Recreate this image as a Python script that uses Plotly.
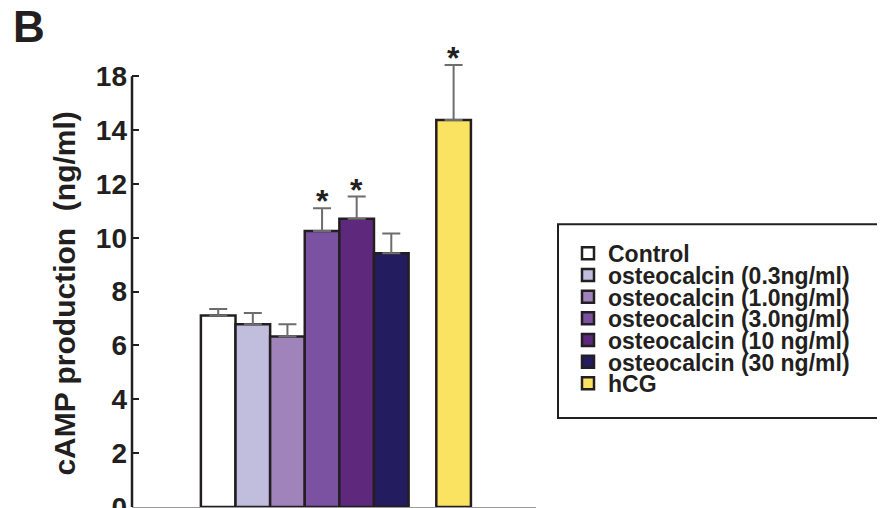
import plotly.graph_objects as go

# ---- data ----
categories = ["Control", "osteocalcin (0.3ng/ml)", "osteocalcin (1.0ng/ml)",
              "osteocalcin (3.0ng/ml)", "osteocalcin (10 ng/ml)",
              "osteocalcin (30 ng/ml)", "hCG"]
values = [7.11, 6.79, 6.33, 10.25, 10.70, 9.42, 14.37]
errors = [0.24, 0.41, 0.46, 0.84, 0.83, 0.74, 2.04]
significant = [False, False, False, True, True, False, True]
tick_values = [0, 2, 4, 6, 8, 10, 12, 14, 16]
tick_labels = ["0", "2", "4", "6", "8", "10", "12", "14", "18"]

colors = ["#ffffff", "#c1bddd", "#a083bb", "#7b52a1", "#5e297c", "#231c5e", "#fbe362"]
OUTLINE = "#231f20"
INK = "#231f20"
FONT = "Liberation Sans, Arial, Helvetica, sans-serif"
Y_RANGE = [0, 16.6]          # a little head-room so the hCG error bar is not clipped
AXIS_TOP = tick_values[-1]   # the drawn y-axis line stops at the top tick

# hCG is set apart from the dose series by a gap
positions = [i + (0.8 if c == "hCG" else 0.0) for i, c in enumerate(categories)]

# ---- geometry (page pixels); the page body adds an 8px margin ----
BODY = 8
W, H = 885 - BODY, 508 - BODY
PX_PER_UNIT = 26.94
PLOT_LEFT, PLOT_RIGHT, PLOT_BOTTOM = 132, 536, 507
PLOT_TOP = PLOT_BOTTOM - (Y_RANGE[1] - Y_RANGE[0]) * PX_PER_UNIT
PLOT_W, PLOT_H = PLOT_RIGHT - PLOT_LEFT, PLOT_BOTTOM - PLOT_TOP

def px(xp):
    return (xp - PLOT_LEFT) / PLOT_W

def py(yp):
    return (PLOT_BOTTOM - yp) / PLOT_H

fig = go.Figure()
legend_ids = []
for i, (cat, x, v, e, col) in enumerate(zip(categories, positions, values, errors, colors)):
    lid = "legend" if i == 0 else f"legend{i + 1}"
    legend_ids.append(lid)
    fig.add_trace(go.Bar(
        x=[x], y=[v], name=cat, width=1.0, legend=lid, showlegend=True,
        marker=dict(color=col, line=dict(color=OUTLINE, width=2.5)),
        error_y=dict(type="data", array=[e], arrayminus=[0], symmetric=False,
                     color="#6d6d6d", thickness=2, width=9),
    ))

for x, v, e, s in zip(positions, values, errors, significant):
    if s:
        fig.add_annotation(x=x, xref="x", y=v + e, yref="y",
                           text="*", showarrow=False, yanchor="bottom", yshift=-13,
                           font=dict(family=FONT, size=32, color=INK, weight="bold"))

# panel letter
fig.add_annotation(xref="paper", yref="paper", x=px(11), y=py(0), xanchor="left",
                   yanchor="top", text="B", showarrow=False,
                   font=dict(family=FONT, size=44, color=INK, weight="bold"))

# y-axis title
fig.add_annotation(xref="paper", yref="paper", x=px(64.5), y=py(294),
                   xanchor="center", yanchor="middle", textangle=-90,
                   text="cAMP production\u00a0\u00a0(ng/ml)", showarrow=False,
                   font=dict(family=FONT, size=30, color=INK, weight="bold"))

# y-axis line, stopping at the top tick
fig.add_shape(type="line", xref="paper", x0=0, x1=0, yref="y", y0=Y_RANGE[0], y1=AXIS_TOP,
              line=dict(color=INK, width=2.5))

# legend frame (extends past the right edge, as in the reference)
fig.add_shape(type="rect", xref="paper", yref="paper", x0=px(558), x1=px(1000),
              y0=py(418), y1=py(224), line=dict(color=INK, width=2),
              fillcolor="rgba(0,0,0,0)", layer="below")

# one legend per entry so the rows sit as tightly as in the reference
row_first, row_step = 253.3, 21.67
legend_layout = {}
for i, lid in enumerate(legend_ids):
    legend_layout[lid] = dict(
        x=px(568), xanchor="left", y=py(row_first + i * row_step), yanchor="middle",
        bgcolor="rgba(0,0,0,0)", borderwidth=0,
        font=dict(family=FONT, size=23, color=INK, weight="bold"))

fig.update_layout(
    width=W, height=H, showlegend=True,
    margin=dict(l=PLOT_LEFT - BODY, r=W - (PLOT_RIGHT - BODY), t=PLOT_TOP - BODY,
                b=H - (PLOT_BOTTOM - BODY), autoexpand=False),
    paper_bgcolor="white", plot_bgcolor="white",
    barmode="overlay",
    font=dict(family=FONT, color=INK),
    xaxis=dict(range=[-2.49, 9.18], showline=True, linecolor="#9a9a9a", linewidth=1.5,
               showticklabels=False, ticks="", showgrid=False, zeroline=False),
    yaxis=dict(range=Y_RANGE, tickvals=tick_values, ticktext=tick_labels,
               ticks="inside", ticklen=7, tickwidth=2, tickcolor=INK,
               showline=False, showgrid=False, zeroline=False, ticklabelstandoff=4,
               ticklabeloverflow="allow",
               tickfont=dict(family=FONT, size=28, color=INK, weight="bold")),
    **legend_layout,
)

fig.write_html("out.html")
